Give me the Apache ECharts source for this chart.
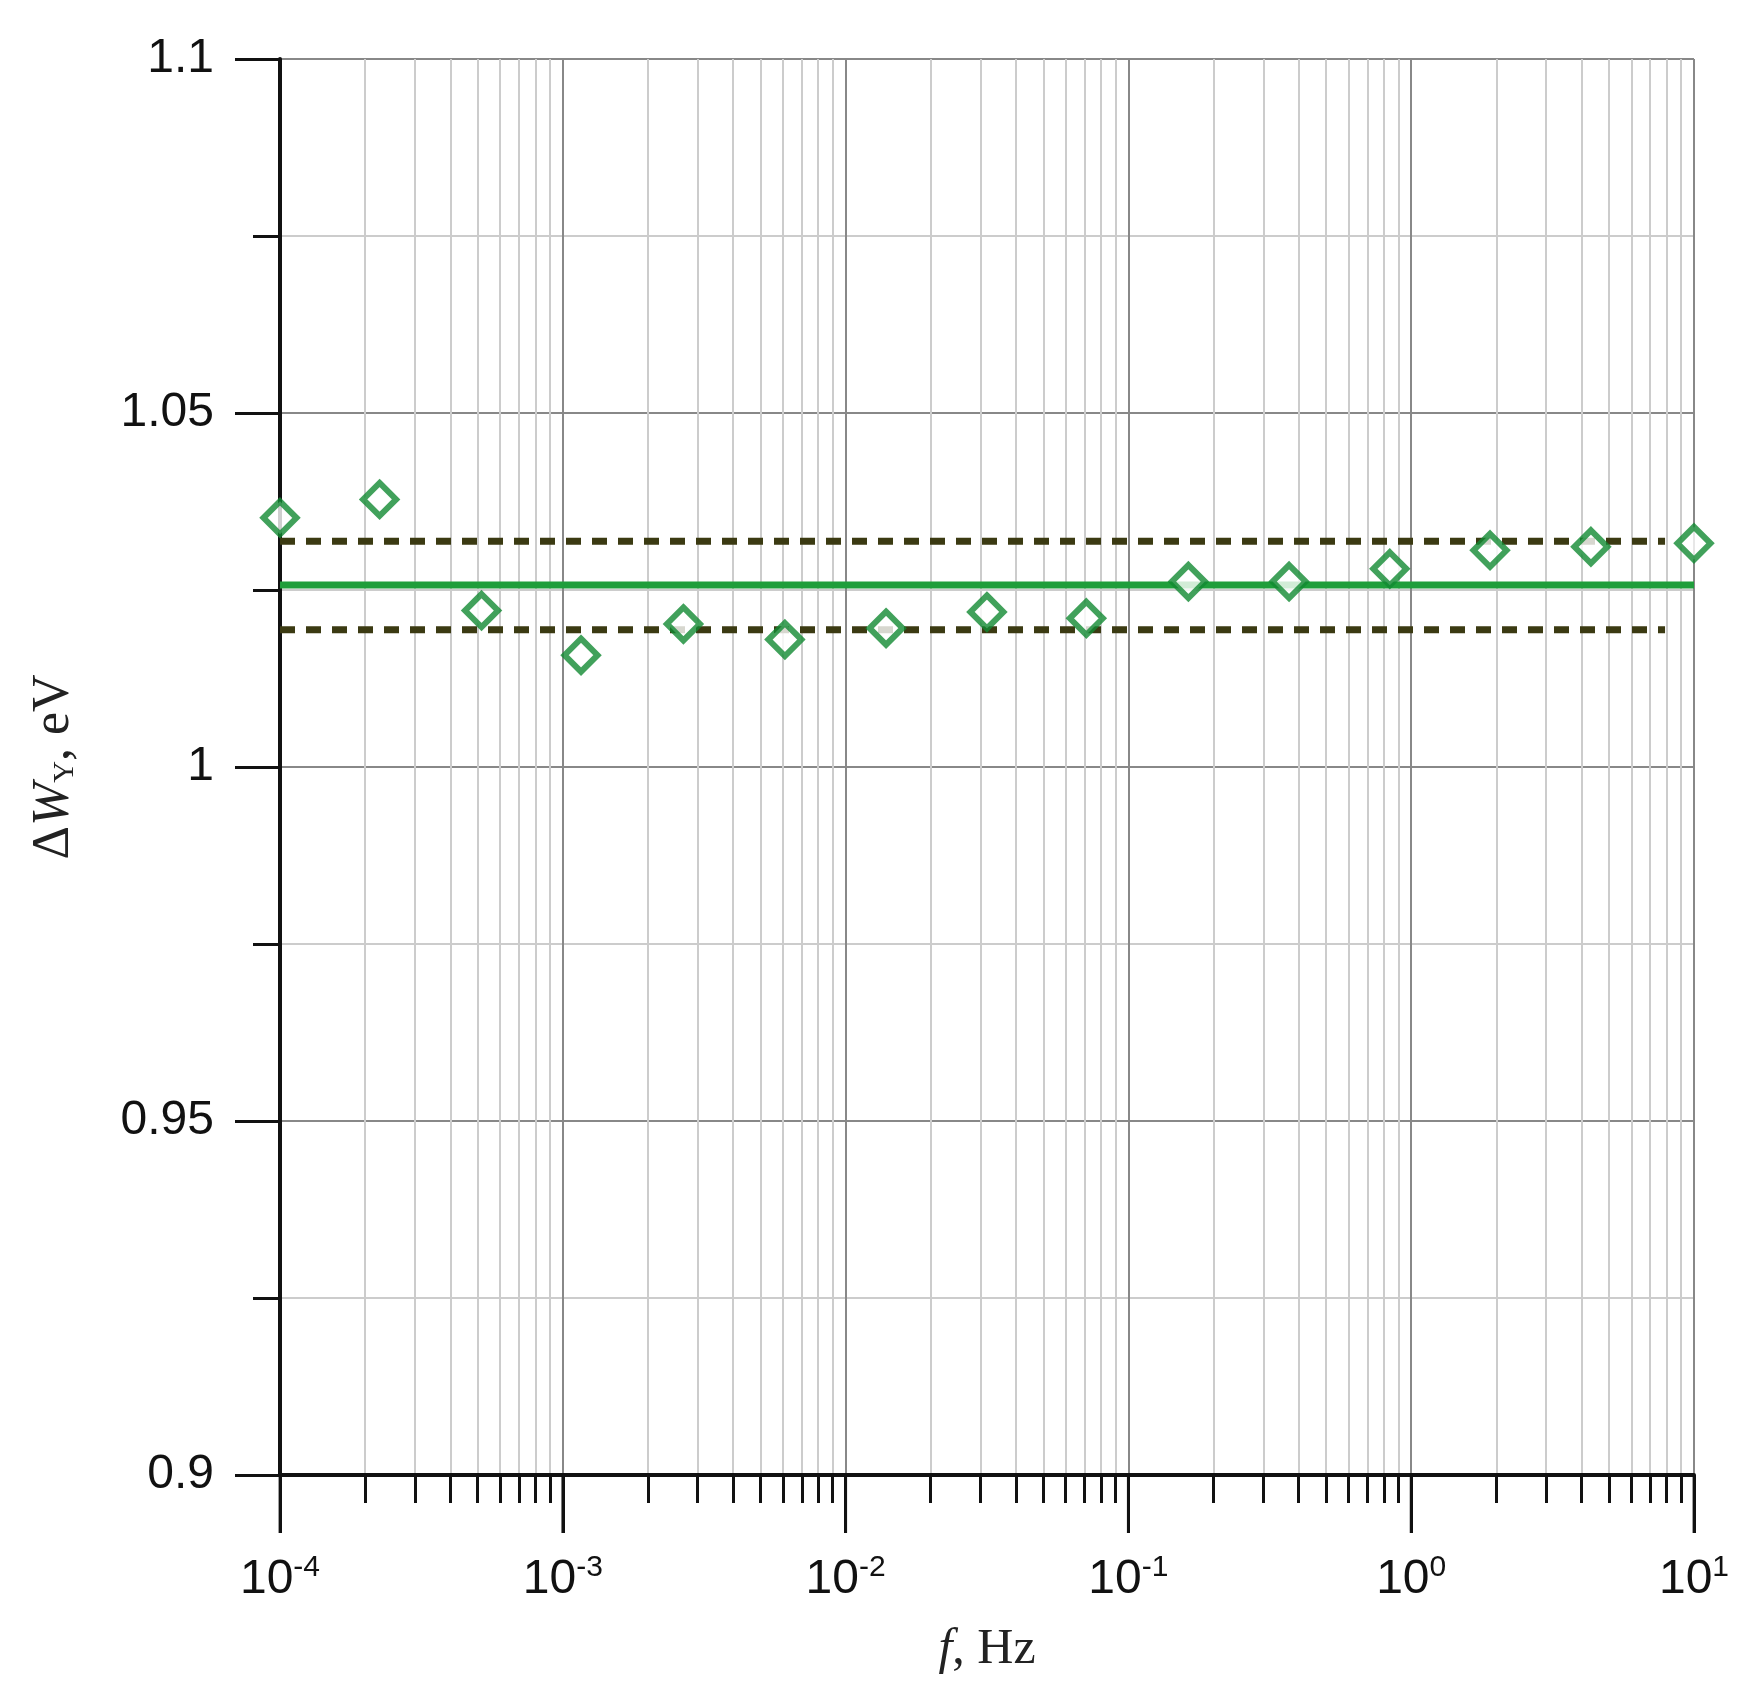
<!DOCTYPE html>
<html lang="en">
<head>
    <meta charset="utf-8">
    <title>ΔW_Y vs f</title>
    <script src="https://cdn.jsdelivr.net/npm/echarts@6/dist/echarts.min.js"></script>
    <style>
        html, body { margin: 0; padding: 0; background: #fff; }
        #main { width: 1757px; height: 1704px; }
    </style>
</head>
<body>
<div id="main"></div>
<script type="text/javascript">
    // measured points, f in Hz
    var freq = [1e-4, 2.25e-4, 5.16e-4, 1.16e-3, 2.67e-3, 6.1e-3, 1.39e-2, 3.16e-2, 7.1e-2, 0.163, 0.37, 0.84, 1.9, 4.32, 10];
    var dW = [1.0352, 1.0378, 1.0221, 1.0158, 1.0202, 1.0180, 1.0196, 1.0219, 1.0210, 1.0262, 1.0262, 1.0280, 1.0306, 1.0311, 1.0316];
    // mean and confidence band
    var meanLine = [[1e-4, 1.0257], [10, 1.0257]];
    var upperLine = [[1e-4, 1.0319], [7.9, 1.0319]];
    var lowerLine = [[1e-4, 1.0194], [7.9, 1.0194]];
    var yTicks = [0.9, 0.95, 1, 1.05, 1.1];
    var xMajor = [1e-4, 1e-3, 1e-2, 1e-1, 1, 10];

    var pts = freq.map(function (f, i) { return [f, dW[i]]; });
    var myChart = echarts.init(document.getElementById('main'));
    var option = {
        backgroundColor: '#fff',
        animation: false,
        grid: {left: 280, right: 63, top: 59, bottom: 229},
        xAxis: [{
            type: 'log',
            logBase: 10,
            min: 1e-4,
            max: 10,
            name: '{i|f}{n|, Hz}',
            nameLocation: 'middle',
            nameGap: 150,
            nameTextStyle: {
                rich: {
                    i: {fontFamily: 'Liberation Serif', fontStyle: 'italic', fontSize: 50, color: '#222'},
                    n: {fontFamily: 'Liberation Serif', fontSize: 50, color: '#222'}
                }
            },
            axisLine: {lineStyle: {color: '#111', width: 4}},
            axisTick: {length: 58, lineStyle: {color: '#111', width: 3}},
            minorTick: {show: true, splitNumber: 9, length: 28, lineStyle: {color: '#111', width: 3}},
            splitLine: {show: true, lineStyle: {color: '#888', width: 2}},
            minorSplitLine: {show: true, lineStyle: {color: '#ccc', width: 2}},
            axisLabel: {
                margin: 78,
                formatter: function (v) {
                    var e = Math.round(Math.log10(v));
                    return '{b|10}{s|' + e + '}';
                },
                rich: {
                    b: {fontFamily: 'Liberation Sans', fontSize: 48, color: '#111'},
                    s: {fontFamily: 'Liberation Sans', fontSize: 30, color: '#111', verticalAlign: 'top', padding: [0, 0, 24, 0]}
                }
            }
        }],
        yAxis: {
            type: 'value',
            min: 0.9,
            max: 1.1,
            interval: 0.05,
            name: '{d|Δ}{w|W}{s|Y}{n|, eV}',
            nameLocation: 'middle',
            nameGap: 200,
            nameRotate: 90,
            nameTextStyle: {
                rich: {
                    d: {fontFamily: 'Liberation Serif', fontSize: 52, color: '#222'},
                    w: {fontFamily: 'Liberation Serif', fontStyle: 'italic', fontSize: 52, color: '#222'},
                    s: {fontFamily: 'Liberation Serif', fontSize: 30, color: '#222', verticalAlign: 'bottom', padding: [20, 0, 0, 0]},
                    n: {fontFamily: 'Liberation Serif', fontSize: 52, color: '#222'}
                }
            },
            axisLine: {show: true, lineStyle: {color: '#111', width: 4}},
            axisTick: {length: 45, lineStyle: {color: '#111', width: 3}},
            minorTick: {show: true, splitNumber: 2, length: 27, lineStyle: {color: '#111', width: 3}},
            splitLine: {show: true, lineStyle: {color: '#888', width: 2}},
            minorSplitLine: {show: true, lineStyle: {color: '#ccc', width: 2}},
            axisLabel: {
                margin: 66,
                fontFamily: 'Liberation Sans',
                fontSize: 48,
                color: '#111',
                formatter: function (v) {
                    for (var i = 0; i < yTicks.length; i++) {
                        if (Math.abs(v - yTicks[i]) < 1e-6) return String(yTicks[i]);
                    }
                    return '';
                }
            }
        },
        series: [
            {
                type: 'line', data: upperLine, symbol: 'none',
                lineStyle: {color: '#3b3a12', width: 7, type: [15, 11]}
            },
            {
                type: 'line', data: lowerLine, symbol: 'none',
                lineStyle: {color: '#3b3a12', width: 7, type: [15, 11]}
            },
            {
                type: 'line', data: meanLine, symbol: 'none',
                lineStyle: {color: '#1f9e3b', width: 7}
            },
            {
                // long ticks at the decades, drawn through the x scale
                type: 'scatter',
                data: xMajor.map(function (v) { return [v, 0.9]; }),
                symbol: 'rect', symbolSize: [3, 58], symbolOffset: [0, 29],
                itemStyle: {color: '#111'}, silent: true, clip: false
            },
            {
                type: 'scatter', data: pts, symbol: 'diamond', symbolSize: 33,
                itemStyle: {color: '#fff', borderColor: '#128a32', borderWidth: 6},
                z: 5
            }
        ]
    };
    myChart.setOption(option);
</script>
</body>
</html>
